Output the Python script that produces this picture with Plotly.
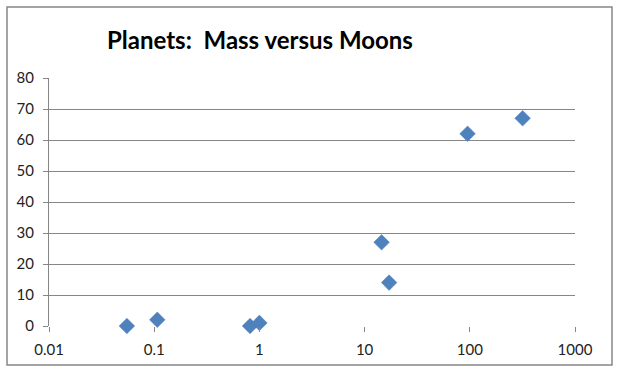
import plotly.graph_objects as go

planets = ["Mercury", "Venus", "Earth", "Mars", "Jupiter", "Saturn", "Uranus", "Neptune"]
mass_earths = [0.055, 0.815, 1.0, 0.107, 317.8, 95.2, 14.5, 17.1]
moons = [0, 0, 1, 2, 67, 62, 27, 14]

x_tickvals = [0.01, 0.1, 1, 10, 100, 1000]
x_ticktext = ["0.01", "0.1", "1", "10", "100", "1000"]
y_tickvals = [0, 10, 20, 30, 40, 50, 60, 70, 80]

W, H = 617, 378
L, R, T, B = 49, 42, 78, 52
pw, ph = W - L - R, H - T - B

def px_x(p):
    return (p - L) / pw

def px_y(p):
    return (H - B - p) / ph

fig = go.Figure()
fig.add_trace(go.Scatter(
    x=mass_earths, y=moons, text=planets, mode="markers",
    marker=dict(symbol="diamond", size=12, color="#4F81BD",
                line=dict(color="#4A7EBB", width=0.5)),
    cliponaxis=False, showlegend=False,
))

font_family = "Lato, 'Liberation Sans', sans-serif"
fig.update_layout(
    width=W, height=H,
    margin=dict(l=L, r=R, t=T, b=B, pad=0),
    paper_bgcolor="white", plot_bgcolor="white",
    font=dict(family=font_family, size=15, color="#222222"),
    xaxis=dict(type="log", range=[-2, 3], tickvals=x_tickvals, ticktext=x_ticktext,
               showgrid=False, zeroline=False, showline=False,
               ticks="outside", ticklen=5, tickcolor="#868686", tickwidth=1,
               ticklabelstandoff=5),
    yaxis=dict(range=[0, 80], tickvals=y_tickvals, showgrid=True,
               gridcolor="#868686", gridwidth=1, zeroline=False,
               showline=True, linecolor="#868686", linewidth=1,
               ticks="outside", ticklen=5, tickcolor="#868686", tickwidth=1,
               ticklabelstandoff=6),
    shapes=[
        dict(type="rect", xref="paper", yref="paper",
             x0=px_x(7), x1=px_x(612), y0=px_y(365), y1=px_y(7),
             line=dict(color="#868686", width=1.5), fillcolor="rgba(0,0,0,0)", layer="below"),
    ],
    annotations=[
        dict(text="<b>Planets:  Mass versus Moons</b>", xref="paper", yref="paper",
             x=px_x(260), y=px_y(39), xanchor="center", yanchor="middle",
             showarrow=False, font=dict(family=font_family, size=24, color="black")),
    ],
)

fig.write_html("out.html", config={"displayModeBar": False},
               post_script="document.body.style.margin='0';")
